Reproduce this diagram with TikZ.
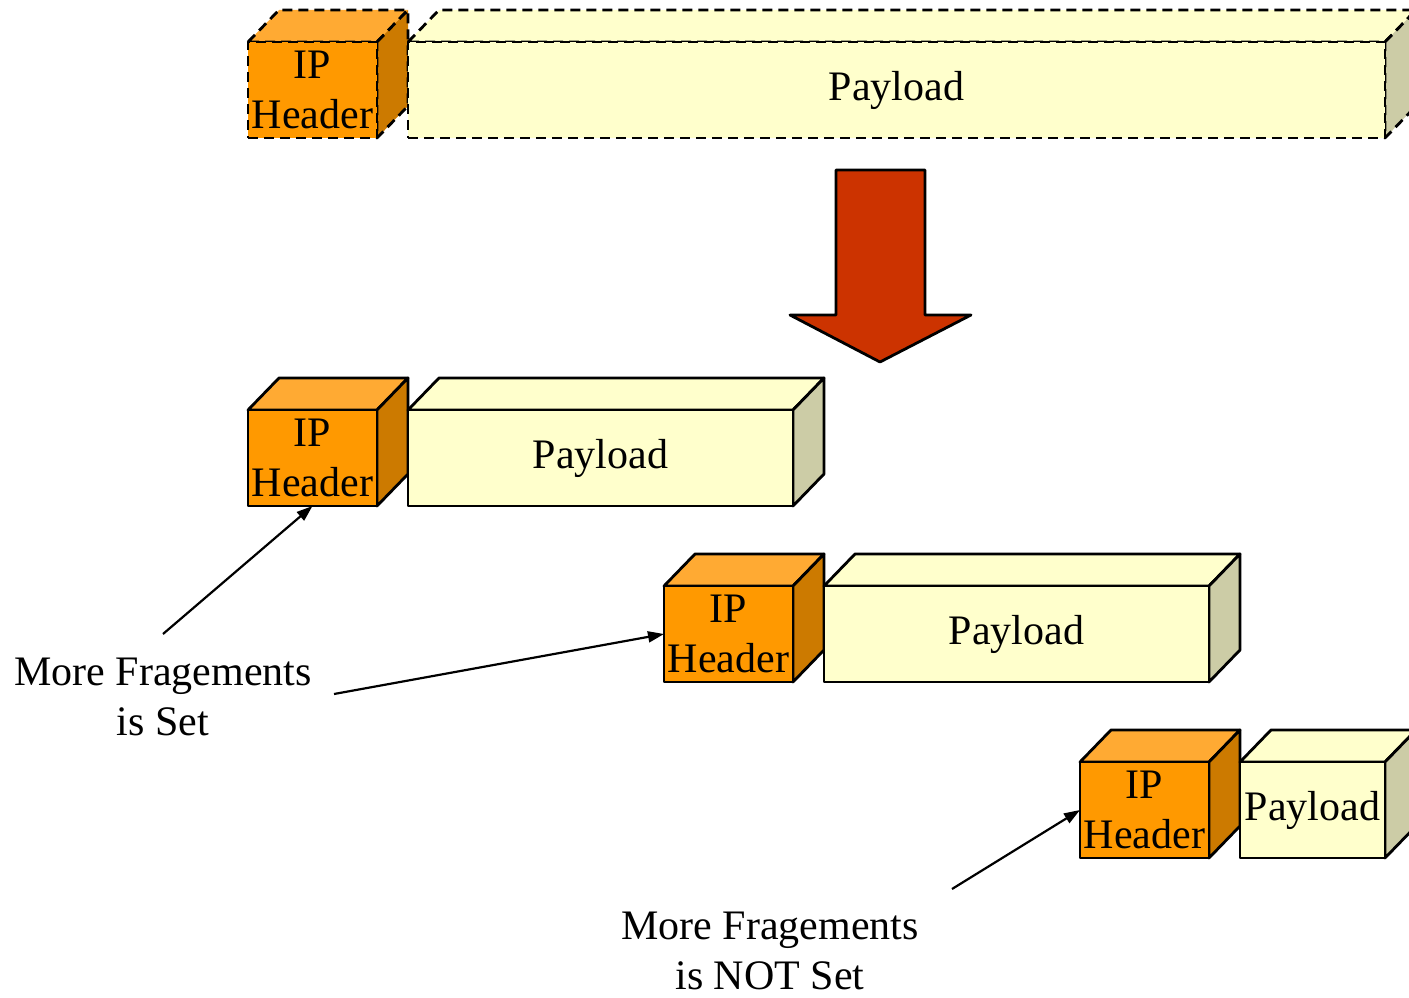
\documentclass[tikz,border=0pt]{standalone}
\usepackage{fontspec}
\setmainfont{Liberation Serif}
\usetikzlibrary{arrows.meta}

\definecolor{hdrfront}{HTML}{FF9900}
\definecolor{hdrtop}{HTML}{FFAA33}
\definecolor{hdrside}{HTML}{CC7A00}
\definecolor{payfront}{HTML}{FFFFCC}
\definecolor{payside}{HTML}{CCCCA6}
\definecolor{bigarrow}{HTML}{CC3300}

\pgfdeclarelayer{back}
\pgfsetlayers{back,main}

% top and side faces of a box whose front face is node #1
\newcommand{\boxfaces}[3]{%
  \begin{pgfonlayer}{back}
  \filldraw[#2] (#1.north west) -- ++(31,-32) -- ([shift={(31,-32)}]#1.north east) -- (#1.north east) -- cycle;
  \filldraw[#3] (#1.north east) -- ++(31,-32) -- ([shift={(31,-32)}]#1.south east) -- (#1.south east) -- cycle;
  \end{pgfonlayer}
}

\begin{document}
\begin{tikzpicture}[x=1pt,y=-1pt,
  font=\fontsize{42}{50.4}\selectfont,
  face/.style={draw=black,line width=2.8pt,line join=round},
  front/.style={face,outer sep=0pt,inner sep=0pt,minimum height=96pt,align=center},
  header/.style={front,fill=hdrfront,minimum width=129pt},
  payload/.style={front,fill=payfront},
  dashface/.style={dash pattern=on 10pt off 6pt},
  label/.style={align=center,inner sep=0pt},
  pointer/.style={-{Triangle[length=16pt,width=11pt]},line width=2.2pt}
]
\useasboundingbox (0,0) rectangle (1409,998);
\clip (0,0) rectangle (1409,998);

% original packet
\node[header,dashface] (h1) at (312.5,90) {IP\\Header};
\node[payload,dashface,minimum width=977pt] (p1) at (896.5,90) {Payload};
\boxfaces{h1}{face,dashface,fill=hdrtop}{face,dashface,fill=hdrside}
\boxfaces{p1}{face,dashface,fill=payfront}{face,dashface,fill=payside}

% fragmentation arrow
\filldraw[face,fill=bigarrow] (836,170) -- (925,170) -- (925,315) -- (971,315)
  -- (880,362) -- (790,315) -- (836,315) -- cycle;

% fragments
\node[header] (h2) at (312.5,458) {IP\\Header};
\node[payload,minimum width=385pt] (p2) at (600.5,458) {Payload};
\boxfaces{h2}{face,fill=hdrtop}{face,fill=hdrside}
\boxfaces{p2}{face,fill=payfront}{face,fill=payside}

\node[header] (h3) at (728.5,634) {IP\\Header};
\node[payload,minimum width=385pt] (p3) at (1016.5,634) {Payload};
\boxfaces{h3}{face,fill=hdrtop}{face,fill=hdrside}
\boxfaces{p3}{face,fill=payfront}{face,fill=payside}

\node[header] (h4) at (1144.5,810) {IP\\Header};
\node[payload,minimum width=145pt] (p4) at (1312.5,810) {Payload};
\boxfaces{h4}{face,fill=hdrtop}{face,fill=hdrside}
\boxfaces{p4}{face,fill=payfront}{face,fill=payside}

% labels
\node[label] (mfset) at (163,697) {More Fragements\\is Set};
\node[label] (mfnotset) at (770,951) {More Fragements\\is NOT Set};
\coordinate (mfset_a) at (163,634);
\coordinate (mfset_b) at (334,694);
\coordinate (mfnotset_a) at (952,889);

\draw[pointer] (mfset_a) -- (h2.south);
\draw[pointer] (mfset_b) -- (h3.west);
\draw[pointer] (mfnotset_a) -- (h4.west);
\end{tikzpicture}
\end{document}
